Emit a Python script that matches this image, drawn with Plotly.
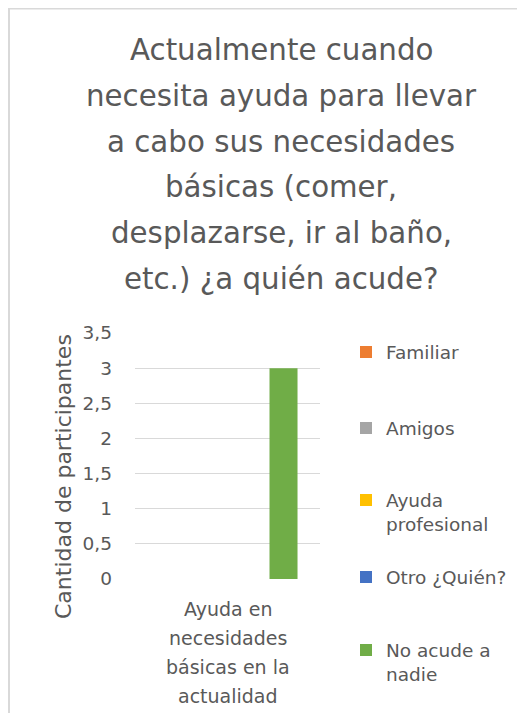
import plotly.graph_objects as go

# ---- data ----
categories = ["Ayuda en necesidades básicas en la actualidad"]
category_label_lines = ["Ayuda en", "necesidades", "básicas en la", "actualidad"]
series_names = ["Familiar", "Amigos", "Ayuda<br>profesional", "Otro ¿Quién?", "No acude a<br>nadie"]
series_values = [[0], [0], [0], [0], [3]]
series_colors = ["#ED7D31", "#A5A5A5", "#FFC000", "#4472C4", "#70AD47"]
title_lines = ["Actualmente cuando", "necesita ayuda para llevar", "a cabo sus necesidades",
               "básicas (comer,", "desplazarse, ir al baño,", "etc.) ¿a quién acude?"]
y_title = "Cantidad de participantes"
y_ticks = [0, 0.5, 1, 1.5, 2, 2.5, 3, 3.5]

# ---- layout geometry (reference pixels; page body has an 8px margin) ----
OFF = 8
W, H = 517, 705
L, R, T, B = 135, 320, 333, 579
FONT = "'DejaVu Sans', Verdana, sans-serif"
GRAY = "#595959"

def px_x(px):
    return (px - L) / (R - L)

def px_y(py):
    return (B - py) / (B - T)

fig = go.Figure()
legend_ids = ["legend", "legend2", "legend3", "legend4", "legend5"]
for name, vals, col, lid in zip(series_names, series_values, series_colors, legend_ids):
    fig.add_trace(go.Bar(x=categories, y=vals, name=name, marker=dict(color=col, line=dict(width=0)),
                         legend=lid))

annotations = []
title_y = [50, 95.8, 141.6, 187.4, 233.2, 279]
for line, py in zip(title_lines, title_y):
    annotations.append(dict(text=line, x=px_x(281), y=px_y(py), xref="paper", yref="paper",
                            xanchor="center", yanchor="middle", showarrow=False,
                            font=dict(family=FONT, size=29.3, color=GRAY)))
cat_y = [609, 638, 667, 696]
for line, py in zip(category_label_lines, cat_y):
    annotations.append(dict(text=line, x=categories[0], y=px_y(py), xref="x", yref="paper",
                            xanchor="center", yanchor="middle", showarrow=False,
                            font=dict(family=FONT, size=19, color=GRAY)))
annotations.append(dict(text=y_title, x=px_x(63), y=px_y(477), xref="paper", yref="paper",
                        xanchor="center", yanchor="middle", showarrow=False, textangle=-90,
                        font=dict(family=FONT, size=22, color=GRAY)))

legend_centers = [352, 428, 500, 577, 650]
legend_layouts = {}
for lid, cy in zip(legend_ids, legend_centers):
    legend_layouts[lid] = dict(x=px_x(346), y=px_y(cy - 18.5), xref="paper", yref="paper",
                               xanchor="left", yanchor="top", valign="top",
                               font=dict(family=FONT, size=18.5, color=GRAY),
                               bgcolor="rgba(0,0,0,0)", itemwidth=30)

fig.update_layout(
    width=W, height=H,
    margin=dict(l=L - OFF, r=W - (R - OFF), t=T - OFF, b=H - (B - OFF), pad=0),
    paper_bgcolor="white", plot_bgcolor="white",
    barmode="group", bargap=0.243, bargroupgap=0,
    separators=", ",
    showlegend=True,
    annotations=annotations,
    xaxis=dict(showticklabels=False, showgrid=False, zeroline=False, showline=False, ticks=""),
    yaxis=dict(range=[0, 3.5], tickvals=y_ticks, showgrid=True, gridcolor="#D9D9D9", gridwidth=1,
               zeroline=False, showline=False, ticks="", ticklabelstandoff=22,
               tickfont=dict(family=FONT, size=18.5, color=GRAY)),
    shapes=[dict(type="rect", xref="paper", yref="paper",
                 x0=px_x(9), x1=px_x(560), y0=px_y(780), y1=px_y(8.5),
                 line=dict(color="#D9D9D9", width=2), fillcolor="rgba(0,0,0,0)", layer="below")],
    **legend_layouts,
)

fig.write_html("out.html")
